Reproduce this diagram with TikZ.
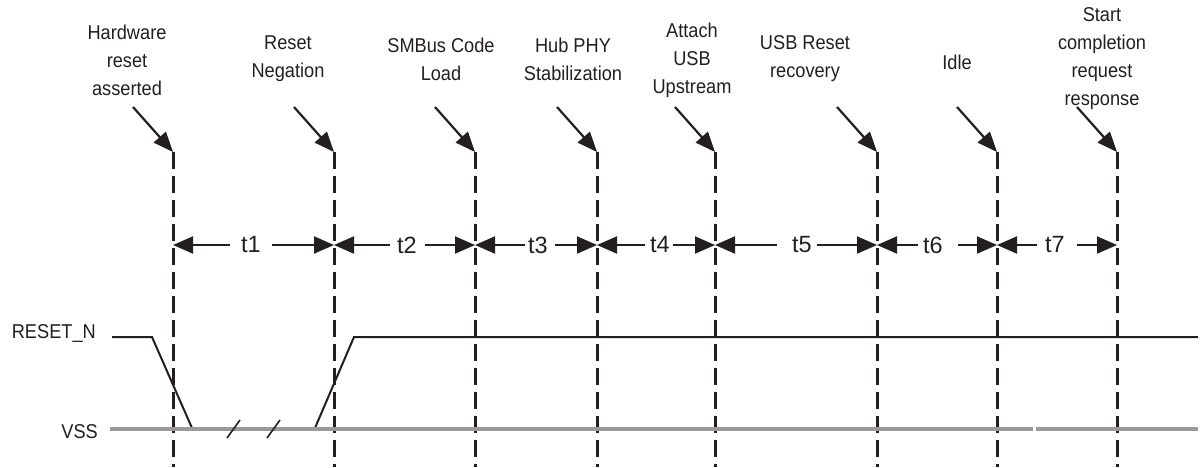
\documentclass[tikz,border=0pt]{standalone}
\usepackage{fontspec}
\setmainfont{Liberation Sans}
\newfontfamily\narrowfont[FakeStretch=0.91]{Liberation Sans}
\usetikzlibrary{arrows.meta}
\definecolor{ink}{HTML}{231F20}
\definecolor{vssgray}{HTML}{9A9A9A}
\begin{document}
\begin{tikzpicture}[x=1pt,y=-1pt,
 lbl/.style={align=center, font=\narrowfont\fontsize{20}{28}\selectfont, text=ink, inner sep=0pt},
 tlbl/.style={font=\fontsize{23.5}{26}\selectfont, text=ink, inner sep=0pt},
 siglbl/.style={font=\narrowfont\fontsize{20}{22}\selectfont, text=ink, inner sep=0pt, anchor=east},
 vline/.style={line width=3pt, dash pattern=on 17pt off 7pt, draw=ink},
 pointer/.style={line width=2.2pt, draw=ink, -{Triangle[length=20pt,width=16pt]}},
 dim/.style={line width=2pt, draw=ink, -{Triangle[length=20pt,width=17pt]}},
 sig/.style={line width=2pt, draw=ink},
 gnd/.style={line width=4pt, draw=vssgray},
 brk/.style={line width=1.6pt, draw=ink}]
\useasboundingbox (0,0) rectangle (1200,467);

% event labels
\node[lbl] (l1) at (127,60) {Hardware\\reset\\asserted};
\node[lbl] (l2) at (288,59) {Reset\\Negation};
\node[lbl] (l3) at (441,59) {SMBus Code\\Load};
\node[lbl] (l4) at (573,59) {Hub PHY\\Stabilization};
\node[lbl] (l5) at (692,60) {Attach\\USB\\Upstream};
\node[lbl] (l6) at (805,59) {USB Reset\\recovery};
\node[lbl] (l7) at (957,62) {Idle};
\node[lbl] (l8) at (1102,59) {Start\\completion\\request\\response};

% vertical marker lines
\foreach \i/\x in {1/173,2/334,3/475,4/597,5/715,6/877,7/997,8/1117}{
  \coordinate (top\i) at (\x,152);
  \coordinate (bot\i) at (\x,467);
  \coordinate (src\i) at (\x-40,107);
  \draw[vline] (top\i) -- (bot\i);
  \draw[pointer] (src\i) -- (top\i);
}

% interval dimension arrows
\foreach \i/\a/\b/\xl/\xt/\xr in {1/173/334/230/251/272, 2/334/475/390/407/425, 3/475/597/525/538/555, 4/597/715/645/660/673, 5/715/877/777/802/817, 6/877/997/918/933/958, 7/997/1117/1037/1055/1077}{
  \coordinate (da\i) at (\a,245);
  \coordinate (db\i) at (\b,245);
  \coordinate (dl\i) at (\xl,245);
  \coordinate (dr\i) at (\xr,245);
  \node[tlbl] (t\i) at (\xt,245) {t\i};
  \draw[dim] (dl\i) -- (da\i);
  \draw[dim] (dr\i) -- (db\i);
}

% signal labels
\node[siglbl] (rst) at (96,333) {RESET\_N};
\node[siglbl] (vss) at (98,432) {VSS};

% RESET_N waveform
\coordinate (w0) at (112,337);
\coordinate (w1) at (152,337);
\coordinate (w2) at (192,428);
\coordinate (w3) at (315,428);
\coordinate (w4) at (354,337);
\coordinate (w5) at (1198,337);
\draw[sig] (w0) -- (w1) -- (w2) -- (w3) -- (w4) -- (w5);

% VSS line
\coordinate (g0) at (110,429);
\coordinate (g1) at (1033,429);
\coordinate (g2) at (1036,429);
\coordinate (g3) at (1198,429);
\draw[gnd] (g0) -- (g1);
\draw[gnd] (g2) -- (g3);

% break marks
\coordinate (b1a) at (227,438); \coordinate (b1b) at (240,420);
\coordinate (b2a) at (267,438); \coordinate (b2b) at (280,420);
\draw[brk] (b1a) -- (b1b);
\draw[brk] (b2a) -- (b2b);
\end{tikzpicture}
\end{document}
